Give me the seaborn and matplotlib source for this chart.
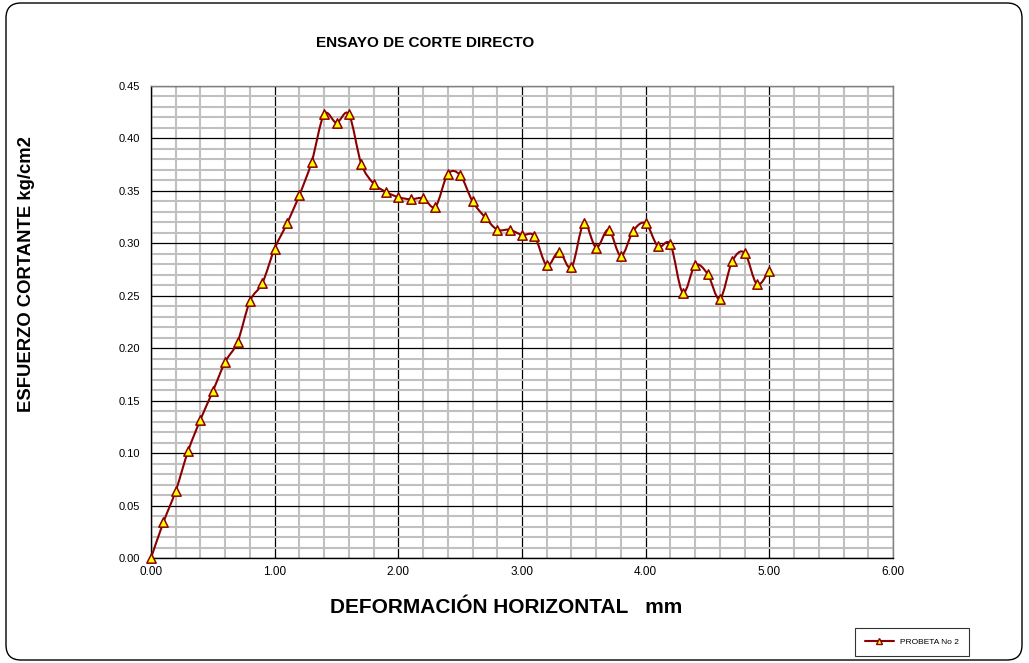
import numpy as np
import matplotlib
matplotlib.use("Agg")
import matplotlib.pyplot as plt
import seaborn as sns
from matplotlib.path import Path
from matplotlib.patches import PathPatch, FancyBboxPatch
from matplotlib.lines import Line2D
from matplotlib.ticker import MultipleLocator, FormatStrFormatter

# datos (deformacion en mm, esfuerzo en kg/cm2)
deformacion = [0.0, 0.1, 0.2, 0.3, 0.4, 0.5, 0.6, 0.7, 0.8, 0.9,
               1.0, 1.1, 1.2, 1.3, 1.4, 1.5, 1.6, 1.7, 1.8, 1.9,
               2.0, 2.1, 2.2, 2.3, 2.4, 2.5, 2.6, 2.7, 2.8, 2.9,
               3.0, 3.1, 3.2, 3.3, 3.4, 3.5, 3.6, 3.7, 3.8, 3.9,
               4.0, 4.1, 4.2, 4.3, 4.4, 4.5, 4.6, 4.7, 4.8, 4.9, 5.0]
esfuerzo = [0.000, 0.034, 0.064, 0.102, 0.132, 0.159, 0.187, 0.206, 0.245, 0.262,
            0.295, 0.319, 0.346, 0.378, 0.423, 0.415, 0.423, 0.376, 0.357, 0.349,
            0.344, 0.342, 0.343, 0.335, 0.366, 0.365, 0.340, 0.325, 0.313, 0.313,
            0.308, 0.307, 0.279, 0.292, 0.277, 0.319, 0.296, 0.313, 0.288, 0.312,
            0.319, 0.297, 0.299, 0.253, 0.279, 0.271, 0.247, 0.283, 0.291, 0.261, 0.274]
x_ticks = [0, 1, 2, 3, 4, 5, 6]
serie = "PROBETA No 2"

ROJO = "#8B0000"
AMARILLO = "#FFFF00"

sns.set_style("white")
plt.rcParams["font.family"] = ["Liberation Sans", "DejaVu Sans"]
plt.rcParams["text.color"] = "black"
plt.rcParams["xtick.color"] = "black"
plt.rcParams["ytick.color"] = "black"

fig = plt.figure(figsize=(10.29, 6.63), dpi=100)
ax = fig.add_axes([151 / 1029, 1 - 558 / 663, 742 / 1029, 472 / 663])

# linea suavizada tipo Excel (Bezier a traves de los puntos)
pts = np.column_stack([deformacion, esfuerzo])
n = len(pts)
verts = [pts[0]]
codes = [Path.MOVETO]
for i in range(n - 1):
    p0 = pts[max(i - 1, 0)]
    p1 = pts[i]
    p2 = pts[i + 1]
    p3 = pts[min(i + 2, n - 1)]
    verts += [p1 + (p2 - p0) / 6, p2 - (p3 - p1) / 6, p2]
    codes += [Path.CURVE4] * 3
ax.add_patch(PathPatch(Path(verts, codes), fill=False, edgecolor=ROJO, lw=1.5, zorder=3))

sns.scatterplot(x=deformacion, y=esfuerzo, marker="^", s=45, color=AMARILLO,
                edgecolor=ROJO, linewidth=1.1, zorder=4, clip_on=False, legend=False, ax=ax)

ax.set_xlim(0, 6)
ax.set_ylim(0, 0.45)
ax.set_xticks(x_ticks)
ax.yaxis.set_major_locator(MultipleLocator(0.05))
ax.xaxis.set_minor_locator(MultipleLocator(0.2))
ax.yaxis.set_minor_locator(MultipleLocator(0.01))
ax.xaxis.set_major_formatter(FormatStrFormatter("%.2f"))
ax.yaxis.set_major_formatter(FormatStrFormatter("%.2f"))
ax.set_axisbelow(True)
ax.grid(which="minor", color="#C0C0C0", lw=1.5)
ax.grid(which="major", color="black", lw=0.9)
ax.tick_params(axis="y", which="major", direction="out", length=5, width=0.8, labelsize=8, pad=3)
ax.tick_params(axis="x", which="major", length=0, labelsize=8.5, pad=6)
ax.tick_params(which="minor", length=0)
ax.set_xlabel("")
ax.set_ylabel("")
for s in ax.spines.values():
    s.set_color("#808080")
    s.set_linewidth(1)
ax.spines["left"].set_color("black")
ax.spines["bottom"].set_color("black")

fig.text(425 / 1029, 1 - 47 / 663, "ENSAYO DE CORTE DIRECTO", ha="center", va="baseline",
         fontsize=11, fontweight="bold")
fig.text(27 / 1029, 1 - 274 / 663, "ESFUERZO CORTANTE kg/cm2", ha="center", va="center",
         rotation=90, fontsize=13.3, fontweight="bold")
fig.text(506 / 1029, 1 - 613 / 663, "DEFORMACIÓN HORIZONTAL   mm", ha="center", va="baseline",
         fontsize=15, fontweight="bold")

handle = Line2D([], [], color=ROJO, lw=1.5, marker="^", markersize=5,
                markerfacecolor=AMARILLO, markeredgecolor=ROJO)
leg = fig.legend([handle], [serie], loc="center", bbox_to_anchor=(912 / 1029, 1 - 642 / 663),
                 fontsize=6, frameon=True, fancybox=False, handlelength=3.5,
                 borderpad=1.2, edgecolor="black")
leg.get_frame().set_linewidth(0.8)

borde = FancyBboxPatch((0.06, 0.03), 10.16, 6.57, boxstyle="round,pad=0,rounding_size=0.15",
                       transform=fig.dpi_scale_trans, fill=False, edgecolor="black", lw=1)
fig.patches.append(borde)

fig.savefig("out.png", dpi=100)
